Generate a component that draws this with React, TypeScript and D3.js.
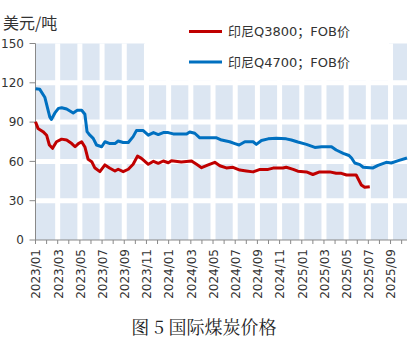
import React from "react";
import * as d3 from "d3";

const yTicks = [0, 30, 60, 90, 120, 150];
const xLabels = ["2023/01","2023/03","2023/05","2023/07","2023/09","2023/11","2024/01","2024/03","2024/05","2024/07","2024/09","2024/11","2025/01","2025/03","2025/05","2025/07","2025/09"];
const seriesNames = ["印尼Q3800；FOB价", "印尼Q4700；FOB价"];
const seriesColors = ["#C00000", "#0070C0"];
const domainStart = "2023-01-01";
const domainEnd = "2025-10-16";

const q3800Dates = ["2023-01-01","2023-01-08","2023-01-22","2023-02-01","2023-02-08","2023-02-16","2023-02-26","2023-03-12","2023-03-26","2023-04-09","2023-04-18","2023-04-27","2023-05-06","2023-05-15","2023-05-24","2023-06-03","2023-06-11","2023-06-25","2023-07-09","2023-07-23","2023-08-06","2023-08-15","2023-08-29","2023-09-12","2023-09-25","2023-10-07","2023-10-18","2023-11-06","2023-11-20","2023-12-03","2023-12-17","2023-12-31","2024-01-09","2024-02-05","2024-03-03","2024-03-17","2024-03-31","2024-04-18","2024-05-06","2024-05-20","2024-06-07","2024-06-25","2024-07-14","2024-08-01","2024-08-20","2024-09-08","2024-09-30","2024-10-14","2024-11-10","2024-11-19","2024-12-08","2024-12-21","2025-01-14","2025-02-01","2025-02-18","2025-03-17","2025-04-04","2025-04-18","2025-05-02","2025-05-29","2025-06-12","2025-06-21","2025-07-05"];
const q3800Values = [90.3,85.2,82.7,80,72.5,70,75,77,76.3,73.6,71.2,73.6,75,71,61.6,59.8,55.2,52.2,57.3,54.8,52.7,54,52.2,54,57.8,64,62.3,57.8,60.1,58.5,60.3,59,60.5,59.5,60.3,57.8,55.2,57.3,59.3,56.7,55,55.5,53.4,52.7,52,53.9,53.9,54.9,54.9,55.5,53.9,52.5,52,50,52,52,50.9,50.9,49.6,49.6,42,40.2,40.7];

const q4700Dates = ["2023-01-01","2023-01-13","2023-01-27","2023-02-09","2023-02-13","2023-02-22","2023-03-03","2023-03-12","2023-03-26","2023-04-13","2023-04-24","2023-05-06","2023-05-15","2023-05-21","2023-05-29","2023-06-07","2023-06-16","2023-06-30","2023-07-09","2023-07-23","2023-08-06","2023-08-15","2023-08-29","2023-09-12","2023-09-25","2023-10-04","2023-10-23","2023-11-06","2023-11-20","2023-12-03","2023-12-17","2023-12-31","2024-01-14","2024-02-19","2024-02-27","2024-03-12","2024-03-26","2024-05-11","2024-05-25","2024-06-16","2024-06-30","2024-07-12","2024-07-28","2024-08-20","2024-08-29","2024-09-12","2024-09-30","2024-10-23","2024-11-19","2024-12-03","2024-12-21","2025-01-14","2025-02-06","2025-02-23","2025-03-22","2025-04-04","2025-04-23","2025-05-09","2025-05-16","2025-05-25","2025-06-08","2025-06-17","2025-07-14","2025-07-28","2025-08-20","2025-09-03","2025-09-22","2025-10-16"];
const q4700Values = [115.5,115,109,94,92,97,100.5,101,100,97,99,99,96,82.7,80,77.6,72.5,71.2,75,73.6,73.6,75.6,74.4,74.4,78.9,83.5,83.5,80,82,80.5,82,82,81,81,82.5,81.5,78,78,76.3,75,73.6,72.5,75,75,73,75.9,77.2,77.7,77.2,76.3,74.8,73,70.7,71.2,71.2,68.7,66.2,64.5,62.6,58.8,57.5,55.5,55,57,59.3,58.8,60.6,62.6];

function monthIndex(s: string): number {
  const [y, m, d] = s.split("-").map(Number);
  const dim = new Date(y, m, 0).getDate();
  return (y - 2023) * 12 + (m - 1) + (d - 1) / dim;
}

const W = 413, H = 346;
const left = 35.5, right = 407, top = 43.5, bottom = 240;
const latin = "'DejaVu Sans', 'Noto Sans CJK SC', sans-serif";

export default function App() {
  const x = d3.scaleLinear().domain([monthIndex(domainStart), monthIndex(domainEnd)]).range([left, right]);
  const y = d3.scaleLinear().domain([0, 150]).range([bottom, top]);
  const line = d3.line<[number, number]>().x(d => x(d[0])).y(d => y(d[1]));
  const s1: [number, number][] = q3800Dates.map((d, i) => [monthIndex(d), q3800Values[i]]);
  const s2: [number, number][] = q4700Dates.map((d, i) => [monthIndex(d), q4700Values[i]]);
  const months = d3.range(0, Math.floor(monthIndex(domainEnd)) + 1);
  const labelMonths = xLabels.map(l => { const [yy, mm] = l.split("/").map(Number); return (yy - 2023) * 12 + mm - 1; });

  return (
    <svg width={W} height={H} style={{ position: "absolute", left: 0, top: 0, background: "#fff" }}>
      <rect x={left} y={top} width={right - left} height={bottom - top} fill="#DCE6F2" />
      {yTicks.filter(v => v > 0 && v < 150).map(v => (
        <line key={"hg" + v} x1={left} x2={right} y1={y(v)} y2={y(v)} stroke="#fff" strokeWidth={5} />
      ))}
      {labelMonths.filter(m => m > 0).map(m => (
        <line key={"vg" + m} x1={x(m)} x2={x(m)} y1={top} y2={bottom} stroke="#fff" strokeWidth={5} />
      ))}
      <rect x={145} y={0} width={244} height={80.5} fill="#fff" />
      {/* axes */}
      <line x1={left} x2={left} y1={top} y2={bottom} stroke="#898989" strokeWidth={1} />
      <line x1={left} x2={right} y1={bottom} y2={bottom} stroke="#898989" strokeWidth={1} />
      {yTicks.map(v => (
        <g key={"yt" + v}>
          <line x1={left - 6} x2={left} y1={y(v)} y2={y(v)} stroke="#898989" />
          <text x={24} y={y(v)} dy="0.36em" textAnchor="end" fontSize={12} fontFamily={latin} fill="#333">{v}</text>
        </g>
      ))}
      {months.map(m => (
        <line key={"xt" + m} x1={x(m)} x2={x(m)} y1={bottom} y2={bottom + 4} stroke="#898989" />
      ))}
      {xLabels.map((l, i) => (
        <text key={l} transform={`translate(${x(labelMonths[i]) + 0.5},249) rotate(-90)`} textAnchor="end" dy="0.36em" fontSize={12} fontFamily={latin} fill="#333">{l}</text>
      ))}
      {/* lines */}
      <path d={line(s2) || ""} fill="none" stroke={seriesColors[1]} strokeWidth={3} strokeLinejoin="round" />
      <path d={line(s1) || ""} fill="none" stroke={seriesColors[0]} strokeWidth={3} strokeLinejoin="round" />
      {/* legend */}
      {seriesNames.map((n, i) => (
        <g key={n}>
          <line x1={189} x2={222} y1={31.5 + i * 30.5} y2={31.5 + i * 30.5} stroke={seriesColors[i]} strokeWidth={3} />
          <text x={228} y={31.5 + i * 30.5} dy="0.36em" fontSize={13} fontFamily={latin} fill="#333">{n}</text>
        </g>
      ))}
      {/* y title */}
      <text x={3} y={29} fontSize={16} fontFamily="'Noto Sans CJK SC', sans-serif" fill="#333">美元/吨</text>
      {/* caption */}
      <text x={204} y={334} textAnchor="middle" fontSize={18} fontFamily="'Noto Serif CJK SC', serif" fill="#222">图 5 国际煤炭价格</text>
    </svg>
  );
}
